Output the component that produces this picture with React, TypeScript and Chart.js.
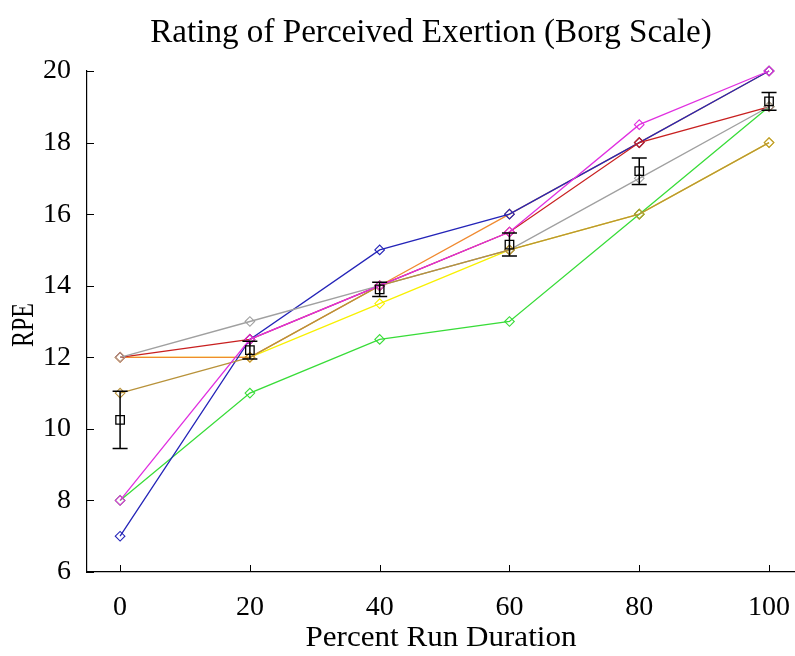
import { useEffect, useRef } from 'react';
import { Chart, registerables } from 'chart.js';

Chart.register(...registerables);

const titleText = 'Rating of Perceived Exertion (Borg Scale)';
const xTitle = 'Percent Run Duration';
const yTitle = 'RPE';

const xValues = [0, 20, 40, 60, 80, 100];
const xTickValues = [0, 20, 40, 60, 80, 100];
const yTickValues = [6, 8, 10, 12, 14, 16, 18, 20];

const graySeries = [12, 13, 14, 15, 17, 19];
const redSeries = [12, 12.5, 14, 15.5, 18, 19];
const yellowSeries = [12, 12, 13.5, 15, 16, 18];
const goldSeries = [11, 12, 14, 15, 16, 18];
const orangeSeries = [12, 12, 14, 16, 18, 20];
const magentaSeries = [8, 12.5, 14, 15.5, 18.5, 20];
const blueSeries = [7, 12.5, 15, 16, 18, 20];
const greenSeries = [8, 11, 12.5, 13, 16, 19];
const meanSeries = [10.25, 12.2, 13.9, 15.15, 17.2, 19.15];
const errorSeries = [0.8, 0.25, 0.2, 0.32, 0.37, 0.25];

const FONT = '"Liberation Serif", "Times New Roman", serif';

function measure(text: string, size: number): number {
  const c = document.createElement('canvas').getContext('2d')!;
  c.font = `${size}px ${FONT}`;
  return c.measureText(text).width;
}

function pts(vals: number[]) {
  return xValues.map((x, i) => ({ x, y: vals[i] }));
}

function subject(vals: number[], color: string) {
  return {
    data: pts(vals),
    borderColor: color,
    backgroundColor: 'rgba(0,0,0,0)',
    borderWidth: 1.3,
    pointStyle: 'rectRot',
    pointRadius: 4.8,
    pointBorderWidth: 1.1,
    pointBorderColor: color,
    pointBackgroundColor: 'rgba(0,0,0,0)',
    tension: 0,
    clip: false,
  };
}

function drawFitted(ctx: CanvasRenderingContext2D, text: string, size: number, width: number) {
  ctx.font = `${size}px ${FONT}`;
  const w = ctx.measureText(text).width;
  ctx.save();
  ctx.scale(width / w, 1);
  ctx.fillText(text, 0, 0);
  ctx.restore();
}

export default function App() {
  const ref = useRef<HTMLCanvasElement>(null);

  useEffect(() => {
    const titleSize = (100 * 562) / measure(titleText, 100);

    const decor = {
      id: 'decor',
      afterDatasetsDraw(chart: any) {
        const ctx = chart.ctx;
        const xs = chart.scales.x;
        const ys = chart.scales.y;
        ctx.save();
        ctx.strokeStyle = '#000';
        ctx.lineWidth = 1.5;
        xValues.forEach((xv, i) => {
          const px = xs.getPixelForValue(xv);
          const top = ys.getPixelForValue(meanSeries[i] + errorSeries[i]);
          const bot = ys.getPixelForValue(meanSeries[i] - errorSeries[i]);
          ctx.beginPath();
          ctx.moveTo(px, top);
          ctx.lineTo(px, bot);
          ctx.moveTo(px - 7.5, top);
          ctx.lineTo(px + 7.5, top);
          ctx.moveTo(px - 7.5, bot);
          ctx.lineTo(px + 7.5, bot);
          ctx.stroke();
        });
        ctx.restore();
      },
      afterDraw(chart: any) {
        const ctx = chart.ctx;
        const xs = chart.scales.x;
        const ys = chart.scales.y;
        const area = chart.chartArea;
        ctx.save();
        ctx.strokeStyle = '#000';
        ctx.lineWidth = 1;
        ctx.beginPath();
        xTickValues.forEach((v) => {
          const px = Math.round(xs.getPixelForValue(v)) + 0.5;
          ctx.moveTo(px, area.bottom);
          ctx.lineTo(px, area.bottom - 7);
        });
        yTickValues.forEach((v) => {
          const py = Math.round(ys.getPixelForValue(v)) + 0.5;
          ctx.moveTo(area.left, py);
          ctx.lineTo(area.left + 7, py);
        });
        ctx.stroke();

        ctx.fillStyle = '#000';
        ctx.textAlign = 'center';
        ctx.textBaseline = 'middle';
        ctx.font = `${titleSize}px ${FONT}`;
        ctx.fillText(titleText, 431, 33);

        ctx.save();
        ctx.translate(441, 638);
        drawFitted(ctx, xTitle, 30, 271);
        ctx.restore();

        ctx.save();
        ctx.translate(25, 325);
        ctx.rotate(-Math.PI / 2);
        drawFitted(ctx, yTitle, 31, 44);
        ctx.restore();
        ctx.restore();
      },
    };

    const chart = new Chart(ref.current!, {
      type: 'line',
      data: {
        datasets: [
          {
            data: pts(meanSeries),
            showLine: false,
            borderColor: '#000',
            backgroundColor: 'rgba(0,0,0,0)',
            pointStyle: 'rect',
            pointRadius: 6,
            pointBorderWidth: 1.3,
            pointBorderColor: '#000',
            pointBackgroundColor: 'rgba(0,0,0,0)',
            clip: false,
          },
          subject(magentaSeries, '#e030e0'),
          subject(goldSeries, '#b8923a'),
          subject(graySeries, '#a0a0a0'),
          subject(redSeries, '#c82020'),
          subject(blueSeries, '#2424b8'),
          subject(greenSeries, '#38dc38'),
          subject(orangeSeries, '#f08a30'),
          subject(yellowSeries, '#f8f000'),
        ] as any,
      },
      options: {
        animation: false,
        responsive: false,
        events: [],
        layout: { autoPadding: false, padding: { top: 71, left: 0, right: 0, bottom: 0 } },
        plugins: {
          legend: { display: false },
          title: { display: false },
          tooltip: { enabled: false },
        },
        scales: {
          x: {
            type: 'linear',
            min: -5.1,
            max: 104,
            afterBuildTicks: (s: any) => {
              s.ticks = xTickValues.map((v) => ({ value: v }));
            },
            afterFit: (s: any) => {
              s.height = 84;
              s.paddingLeft = 0;
              s.paddingRight = 0;
            },
            grid: { display: false },
            border: { display: true, color: '#000', width: 1.2 },
            ticks: {
              padding: 11,
              color: '#000',
              font: { family: FONT, size: 28 },
              maxRotation: 0,
            },
          },
          y: {
            type: 'linear',
            min: 6,
            max: 20,
            afterBuildTicks: (s: any) => {
              s.ticks = yTickValues.map((v) => ({ value: v }));
            },
            afterFit: (s: any) => {
              s.width = 87;
              s.paddingTop = 0;
              s.paddingBottom = 0;
            },
            grid: { display: false },
            border: { display: true, color: '#000', width: 1.2 },
            ticks: {
              padding: 8,
              color: '#000',
              font: { family: FONT, size: 28 },
            },
          },
        },
      } as any,
      plugins: [decor],
    });
    return () => chart.destroy();
  }, []);

  return (
    <div style={{ position: 'absolute', left: 0, top: 0, width: 795, height: 656, background: '#fff' }}>
      <canvas ref={ref} width={795} height={656} style={{ display: 'block' }} />
    </div>
  );
}
